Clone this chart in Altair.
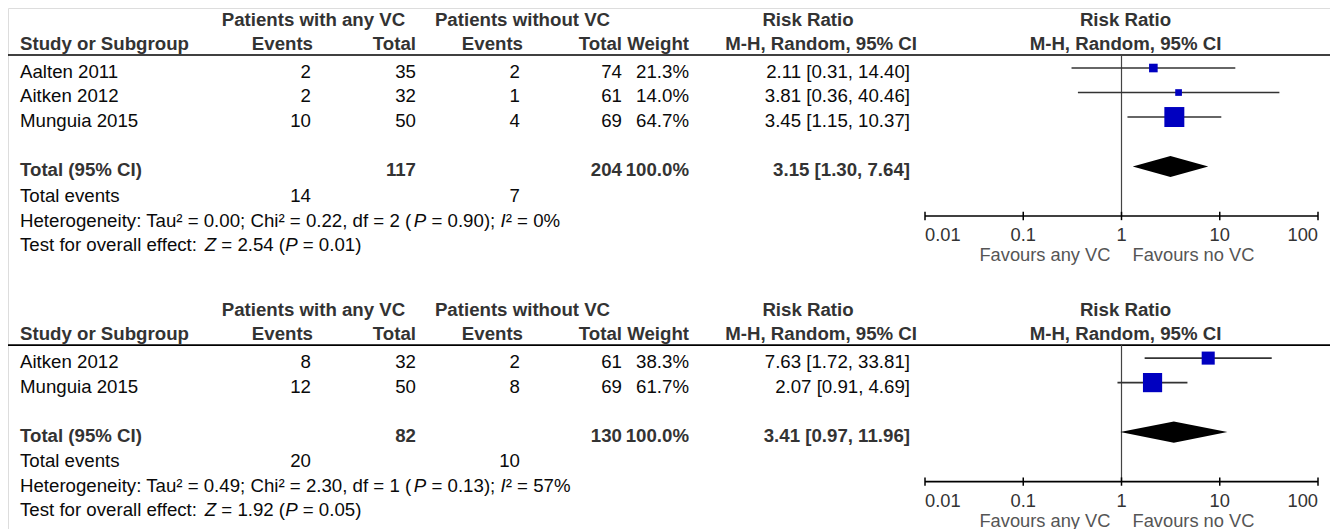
import altair as alt
import pandas as pd

# ---------------- data: section 1 ----------------
s1_studies = ["Aalten 2011", "Aitken 2012", "Munguia 2015"]
s1_events_vc = [2, 2, 10]
s1_total_vc = [35, 32, 50]
s1_events_novc = [2, 1, 4]
s1_total_novc = [74, 61, 69]
s1_weight = [21.3, 14.0, 64.7]
s1_rr = [2.11, 3.81, 3.45]
s1_lo = [0.31, 0.36, 1.15]
s1_hi = [14.40, 40.46, 10.37]
s1_pooled = [3.15, 1.30, 7.64]          # estimate, lower, upper
s1_totals = [117, 204]
s1_total_events = [14, 7]
# text between underscores is set in italics
s1_het = "Heterogeneity: Tau² = 0.00; Chi² = 0.22, df = 2 (_P_ = 0.90); _I_² = 0%"
s1_test = "Test for overall effect: _Z_ = 2.54 (_P_ = 0.01)"

# ---------------- data: section 2 ----------------
s2_studies = ["Aitken 2012", "Munguia 2015"]
s2_events_vc = [8, 12]
s2_total_vc = [32, 50]
s2_events_novc = [2, 8]
s2_total_novc = [61, 69]
s2_weight = [38.3, 61.7]
s2_rr = [7.63, 2.07]
s2_lo = [1.72, 0.91]
s2_hi = [33.81, 4.69]
s2_pooled = [3.41, 0.97, 11.96]
s2_totals = [82, 130]
s2_total_events = [20, 10]
s2_het = "Heterogeneity: Tau² = 0.49; Chi² = 2.30, df = 1 (_P_ = 0.13); _I_² = 57%"
s2_test = "Test for overall effect: _Z_ = 1.92 (_P_ = 0.05)"

# ---------------- labels ----------------
group_headers = ["Patients with any VC", "Patients without VC", "Risk Ratio", "Risk Ratio"]
col_headers = ["Study or Subgroup", "Events", "Total", "Events", "Total", "Weight",
               "M-H, Random, 95% CI", "M-H, Random, 95% CI"]
tick_values = [0.01, 0.1, 1, 10, 100]
tick_labels = ["0.01", "0.1", "1", "10", "100"]
favours = ["Favours any VC", "Favours no VC"]

# ---------------- layout ----------------
W, H = 1322, 525
LH = 24.5
FONT = "Liberation Sans"
FS = 18.67
FS_AX = 18.3
X_STUDY = 12
X_EV1_H, X_EV1 = 305, 303
X_TOT1 = 408
X_EV2_H, X_EV2 = 515, 512
X_TOT2 = 614
X_WT = 681
X_RR_H, X_RR = 909, 902
X_G1, X_G2, X_G3 = 305.5, 514.5, 800
FOREST_RANGE = [917, 1310]
FOFF = -0.16   # forest marks sit slightly above the text line

# Arial / Liberation Sans advance widths (1/1000 em) for placing italic runs
ADV = {' ': 278, '(': 333, ')': 333, '%': 889, ',': 278, '.': 278, ':': 278, ';': 278,
       '=': 584, '²': 333, 'A': 667, 'C': 722, 'H': 722, 'I': 278, 'P': 667, 'T': 611,
       'Z': 611, 'a': 556, 'c': 500, 'd': 556, 'e': 556, 'f': 278, 'g': 556, 'h': 556,
       'i': 222, 'l': 222, 'n': 556, 'o': 556, 'r': 333, 's': 500, 't': 278, 'u': 556,
       'v': 500, 'y': 500}


def adv(s):
    return sum(ADV.get(ch, 556) for ch in s) * FS / 1000.0


yscale = alt.Scale(domain=[-12 / LH, (H - 12) / LH], range=[0, H])
xlog = alt.Scale(type="log", domain=[0.01, 100], range=FOREST_RANGE)
xpx = alt.Scale(domain=[0, W], range=[0, W])

texts, forest, diamonds, hlines, nulls, axes = [], [], [], [], [], []


def add_section(sec, base, studies, ev1, tot1, ev2, tot2, wt, rr, lo, hi, pooled,
                totals, tevents, het, test):
    def add(v, x, t, s):
        texts.append(dict(v=base + v, px=x, text=str(t), style=s))

    def add_rich(v, x, t):
        pos = x
        for k, part in enumerate(t.split("_")):
            if part:
                stripped = part.lstrip(" ")
                lead = adv(part[:len(part) - len(stripped)])
                add(v, pos + lead, stripped, "li" if k % 2 else "ln")
            pos += adv(part)

    add(0, X_G1, group_headers[0], "cb")
    add(0, X_G2, group_headers[1], "cb")
    add(0, X_G3, group_headers[2], "cb")
    add(0.98, X_STUDY, col_headers[0], "lb")
    add(0.98, X_EV1_H, col_headers[1], "rb")
    add(0.98, X_TOT1, col_headers[2], "rb")
    add(0.98, X_EV2_H, col_headers[3], "rb")
    add(0.98, X_TOT2, col_headers[4], "rb")
    add(0.98, X_WT, col_headers[5], "rb")
    add(0.98, X_RR_H, col_headers[6], "rb")
    hlines.append(dict(v=base + 1.43))
    n = len(studies)
    for i in range(n):
        v = 2.12 + i
        add(v, X_STUDY, studies[i], "ln")
        add(v, X_EV1, ev1[i], "rn")
        add(v, X_TOT1, tot1[i], "rn")
        add(v, X_EV2, ev2[i], "rn")
        add(v, X_TOT2, tot2[i], "rn")
        add(v, X_WT, f"{wt[i]:.1f}%", "rn")
        add(v, X_RR, f"{rr[i]:.2f} [{lo[i]:.2f}, {hi[i]:.2f}]", "rn")
        forest.append(dict(v=base + v + FOFF, rr=rr[i], lo=lo[i], hi=hi[i], weight=wt[i]))
    vt = 2.12 + n + 1
    add(vt, X_STUDY, "Total (95% CI)", "lb")
    add(vt, X_TOT1, totals[0], "rb")
    add(vt, X_TOT2, totals[1], "rb")
    add(vt, X_WT, "100.0%", "rb")
    add(vt, X_RR, f"{pooled[0]:.2f} [{pooled[1]:.2f}, {pooled[2]:.2f}]", "rb")
    add(vt + 1.06, X_STUDY, "Total events", "ln")
    add(vt + 1.06, X_EV1, tevents[0], "rn")
    add(vt + 1.06, X_EV2, tevents[1], "rn")
    add_rich(vt + 2.08, X_STUDY, het)
    add_rich(vt + 3.06, X_STUDY, test)
    # diamond
    c = base + vt + FOFF + 0.02
    hh = 0.43
    for x, h in [(pooled[1], 0), (pooled[0], hh), (pooled[2], 0)]:
        diamonds.append(dict(section=sec, x=x, y1=c - h, y2=c + h))
    v_axis = base + vt + 1.88
    nulls.append(dict(x=1, v1=base + 1.43, v2=v_axis))
    axes.append(dict(section=sec, base=base, v=v_axis, vl=base + vt + 2.7,
                     vf=base + vt + 3.51, top=v_axis - 0.17, bot=v_axis + 0.17))
    return base + vt + 3.06


end1 = add_section("s1", 0, s1_studies, s1_events_vc, s1_total_vc, s1_events_novc,
                   s1_total_novc, s1_weight, s1_rr, s1_lo, s1_hi, s1_pooled, s1_totals,
                   s1_total_events, s1_het, s1_test)
add_section("s2", end1 + 2.66, s2_studies, s2_events_vc, s2_total_vc, s2_events_novc,
            s2_total_novc, s2_weight, s2_rr, s2_lo, s2_hi, s2_pooled, s2_totals,
            s2_total_events, s2_het, s2_test)

text_df = pd.DataFrame(texts)
forest_df = pd.DataFrame(forest)
diamond_df = pd.DataFrame(diamonds)
hline_df = pd.DataFrame(hlines)
null_df = pd.DataFrame(nulls)
axis_df = pd.DataFrame(axes)

fh = []
for a in axes:
    fh.append(dict(v=a["base"], text=group_headers[3], x=1))
    fh.append(dict(v=a["base"] + 0.98, text=col_headers[7], x=1))
fh_df = pd.DataFrame(fh)

tick_rows = []
for a in axes:
    for j, (t, l) in enumerate(zip(tick_values, tick_labels)):
        anchor = "left" if j == 0 else ("right" if j == len(tick_values) - 1 else "center")
        tick_rows.append(dict(x=t, lab=l, v=a["v"], top=a["top"], bot=a["bot"], vl=a["vl"],
                              anchor=anchor))
ticks_df = pd.DataFrame(tick_rows)
fav_df = pd.DataFrame([dict(x=1, v=a["vf"], left=favours[0], right=favours[1]) for a in axes])

Y = lambda f: alt.Y(f, scale=yscale, axis=None)
XL = lambda f: alt.X(f, scale=xlog, axis=None)

layers = []

# header rules
layers.append(alt.Chart(hline_df).mark_rule(color="#000", strokeWidth=1.6).encode(
    x=alt.value(0), x2=alt.value(W), y=Y("v:Q")))
# null line
layers.append(alt.Chart(null_df).mark_rule(color="#444", strokeWidth=1.2).encode(
    x=XL("x:Q"), y=Y("v1:Q"), y2="v2:Q"))
# CI lines
layers.append(alt.Chart(forest_df).mark_rule(color="#333", strokeWidth=1.6).encode(
    x=XL("lo:Q"), x2="hi:Q", y=Y("v:Q")))
# squares (side grows linearly with weight)
layers.append(alt.Chart(forest_df).transform_calculate(s="datum.weight + 11.56").mark_square(
    color="#0000C0", opacity=1, strokeWidth=0).encode(
    x=XL("rr:Q"), y=Y("v:Q"),
    size=alt.Size("s:Q", scale=alt.Scale(type="pow", exponent=2, domain=[0, 100], range=[0, 686]),
                  legend=None)))
# diamonds
layers.append(alt.Chart(diamond_df).mark_area(color="#000", opacity=1).encode(
    x=XL("x:Q"), y=Y("y1:Q"), y2="y2:Q", detail="section:N"))
# axis line
layers.append(alt.Chart(axis_df).transform_calculate(a="0.01", b="100").mark_rule(
    color="#000", strokeWidth=1.7).encode(x=XL("a:Q"), x2="b:Q", y=Y("v:Q")))
# ticks
layers.append(alt.Chart(ticks_df).mark_rule(color="#000", strokeWidth=1.5).encode(
    x=XL("x:Q"), y=Y("top:Q"), y2="bot:Q"))
# tick labels
for anchor in ["left", "center", "right"]:
    layers.append(alt.Chart(ticks_df[ticks_df["anchor"] == anchor]).mark_text(
        font=FONT, fontSize=FS_AX, color="#333", baseline="middle", align=anchor).encode(
        x=XL("x:Q"), y=Y("vl:Q"), text="lab:N"))
# favours
layers.append(alt.Chart(fav_df).mark_text(font=FONT, fontSize=FS_AX, color="#555",
                                          baseline="middle", align="right", dx=-11).encode(
    x=XL("x:Q"), y=Y("v:Q"), text="left:N"))
layers.append(alt.Chart(fav_df).mark_text(font=FONT, fontSize=FS_AX, color="#555",
                                          baseline="middle", align="left", dx=11).encode(
    x=XL("x:Q"), y=Y("v:Q"), text="right:N"))
# forest headers
layers.append(alt.Chart(fh_df).mark_text(font=FONT, fontSize=FS, fontWeight="bold", color="#333",
                                         baseline="middle", align="center", dx=4).encode(
    x=XL("x:Q"), y=Y("v:Q"), text="text:N"))

# table text
styles = {
    "ln": dict(align="left", fontWeight="normal", color="#0a0a0a"),
    "li": dict(align="left", fontWeight="normal", fontStyle="italic", color="#0a0a0a"),
    "lb": dict(align="left", fontWeight="bold", color="#333"),
    "rn": dict(align="right", fontWeight="normal", color="#0a0a0a"),
    "rb": dict(align="right", fontWeight="bold", color="#333"),
    "cb": dict(align="center", fontWeight="bold", color="#333"),
}
for key, st in styles.items():
    sub = text_df[text_df["style"] == key]
    layers.append(alt.Chart(sub).mark_text(font=FONT, fontSize=FS, baseline="middle", **st).encode(
        x=alt.X("px:Q", scale=xpx, axis=None), y=Y("v:Q"), text="text:N"))

chart = alt.layer(*layers).resolve_scale(x="independent").properties(
    width=W, height=H, padding=0,
    autosize=alt.AutoSizeParams(type="none"),
).configure_view(stroke=None).configure(background="white")

chart.save("out.html", embed_options={"renderer": "svg", "actions": False})
